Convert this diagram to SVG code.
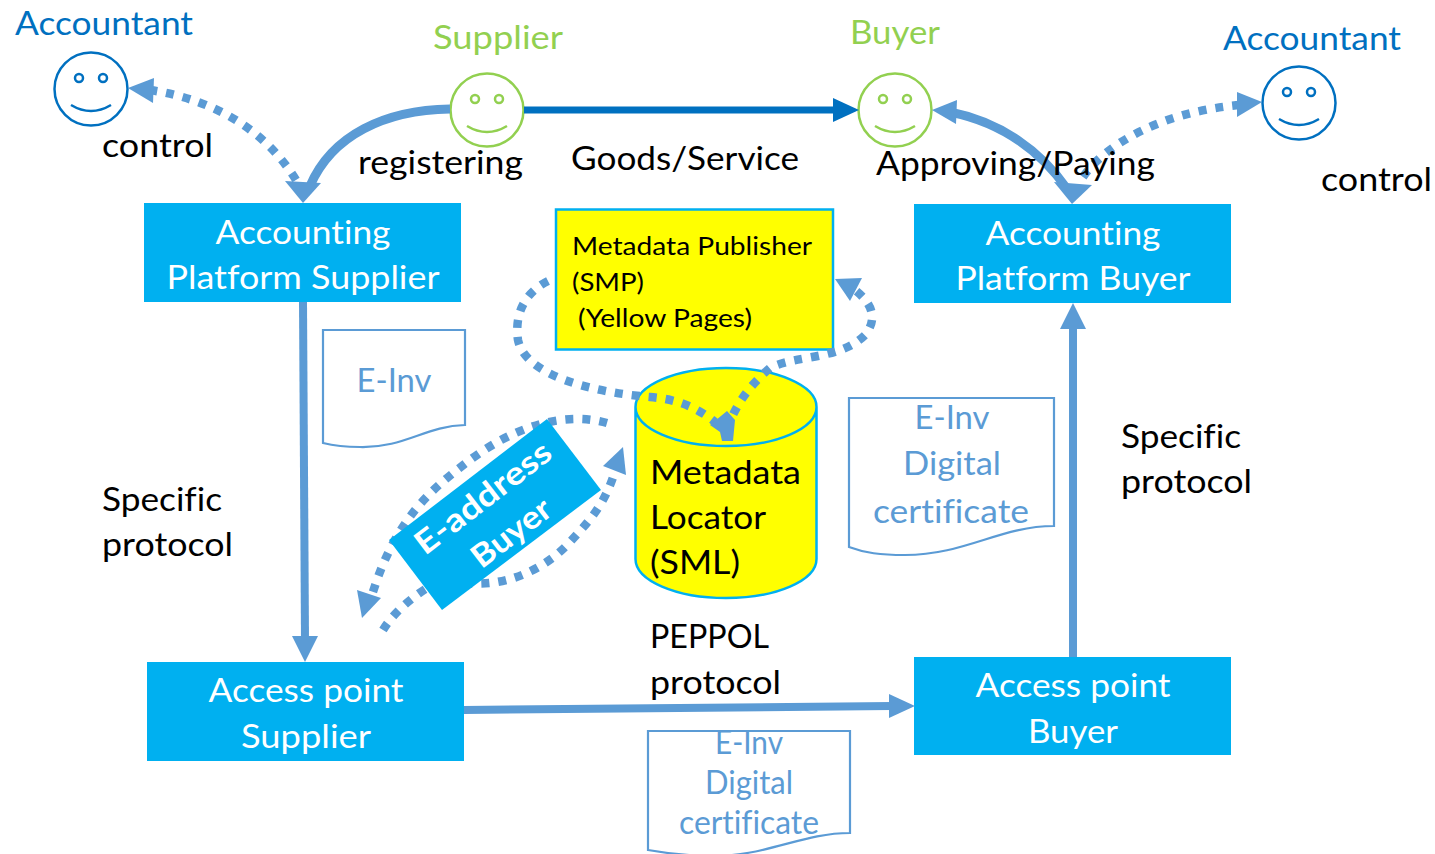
<svg xmlns="http://www.w3.org/2000/svg" width="1435" height="854" viewBox="0 0 1435 854">
<style>
text{font-family:"Lato","Noto Sans",sans-serif;font-size:32px;fill:#000;font-variant-ligatures:none}
.w{fill:#fff}.b{fill:#0070c0}.g{fill:#92d050}.d{fill:#5b9bd5}
.box{fill:#00b0f0}
.m{text-anchor:middle}
.face{fill:#fff;fill-opacity:0;stroke-width:2.5}
.mouth{fill:none;stroke-width:2.5}
.doc{fill:#fff;stroke:#5b9bd5;stroke-width:2.2}
.sol{fill:none;stroke:#5b9bd5}
.dot{fill:none;stroke:#5b9bd5;stroke-width:8.5;stroke-dasharray:8 9}
.head{fill:#5b9bd5}
</style>
<defs>
<g id="smile">
<circle class="face" cx="0" cy="0" r="36.5"/>
<circle class="face" cx="-12" cy="-11" r="4"/>
<circle class="face" cx="12" cy="-11" r="4"/>
<path class="mouth" d="M-20 16 Q0 28 20 16"/>
</g>
</defs>
<g id="doc-einv-1"><path class="doc" d="M323 330H465V425C425 426 405 448 360 447C345 447 335 446 323 443Z"/><text class="d m" x="394" y="392" textLength="75" lengthAdjust="spacingAndGlyphs">E-Inv</text></g>
<g id="doc-einv-2"><path class="doc" d="M849 398H1054V526C1000 526 965 555 905 555C880 555 865 553 849 547Z"/><text class="d m" x="952" y="429" textLength="75" lengthAdjust="spacingAndGlyphs">E-Inv</text><text class="d m" x="952" y="475" textLength="98" lengthAdjust="spacingAndGlyphs">Digital</text><text class="d m" x="951" y="523" textLength="156" lengthAdjust="spacingAndGlyphs">certificate</text></g>
<g id="doc-einv-3"><path class="doc" d="M648 731H850V833C800 833 765 858 705 856C680 855 665 853 648 850Z"/><text class="d m" x="749" y="754" textLength="68" lengthAdjust="spacingAndGlyphs">E-Inv</text><text class="d m" x="749" y="794" textLength="88" lengthAdjust="spacingAndGlyphs">Digital</text><text class="d m" x="749" y="834" textLength="140" lengthAdjust="spacingAndGlyphs">certificate</text></g>
<g id="smp"><rect x="556" y="209.500" width="277" height="140" fill="#ff0" stroke="#00b0f0" stroke-width="2.500"/>
<text x="572" y="255" style="font-size:25px" textLength="240" lengthAdjust="spacingAndGlyphs">Metadata Publisher</text><text x="572" y="291" style="font-size:25px" textLength="72" lengthAdjust="spacingAndGlyphs">(SMP)</text><text x="578" y="327" style="font-size:25px" textLength="174" lengthAdjust="spacingAndGlyphs">(Yellow Pages)</text></g>
<g id="sml"><path d="M635.500 407V559A90.500 39 0 0 0 816.500 559V407A90.500 39 0 0 0 635.500 407A90.500 39 0 0 0 816.500 407" fill="#ff0" stroke="#00b0f0" stroke-width="2.500"/>
<text x="650" y="484" textLength="151" lengthAdjust="spacingAndGlyphs">Metadata</text><text x="650" y="529" textLength="116" lengthAdjust="spacingAndGlyphs">Locator</text><text x="650" y="574" textLength="90" lengthAdjust="spacingAndGlyphs">(SML)</text></g>
<g id="accountant-left"><use href="#smile" x="91" y="89" stroke="#0070c0"/><text class="b" x="15" y="35" textLength="178" lengthAdjust="spacingAndGlyphs">Accountant</text></g>
<g id="supplier"><use href="#smile" x="487" y="110" stroke="#92d050"/><text class="g" x="433" y="49" textLength="130" lengthAdjust="spacingAndGlyphs">Supplier</text></g>
<g id="buyer"><use href="#smile" x="895" y="110" stroke="#92d050"/><text class="g" x="850" y="44" textLength="90" lengthAdjust="spacingAndGlyphs">Buyer</text></g>
<g id="accountant-right"><use href="#smile" x="1299" y="103" stroke="#0070c0"/><text class="b" x="1223" y="50" textLength="178" lengthAdjust="spacingAndGlyphs">Accountant</text></g>
<g id="accounting-supplier"><rect class="box" x="144" y="203" width="317" height="99"/><text class="w m" x="303" y="244" textLength="175" lengthAdjust="spacingAndGlyphs">Accounting</text><text class="w m" x="303" y="289" textLength="273" lengthAdjust="spacingAndGlyphs">Platform Supplier</text></g>
<g id="accounting-buyer"><rect class="box" x="914" y="204" width="317" height="99"/><text class="w m" x="1073" y="245" textLength="175" lengthAdjust="spacingAndGlyphs">Accounting</text><text class="w m" x="1073" y="290" textLength="235" lengthAdjust="spacingAndGlyphs">Platform Buyer</text></g>
<g id="ap-supplier"><rect class="box" x="147" y="662" width="317" height="99"/><text class="w m" x="306" y="702" textLength="195" lengthAdjust="spacingAndGlyphs">Access point</text><text class="w m" x="306" y="748" textLength="130" lengthAdjust="spacingAndGlyphs">Supplier</text></g>
<g id="ap-buyer"><rect class="box" x="914" y="657" width="317" height="98"/><text class="w m" x="1073" y="697" textLength="195" lengthAdjust="spacingAndGlyphs">Access point</text><text class="w m" x="1073" y="743" textLength="90" lengthAdjust="spacingAndGlyphs">Buyer</text></g>
<g id="connectors">
<path d="M524 110H836" fill="none" stroke="#0070c0" stroke-width="7"/><polygon points="859,110 833,98 833,122" fill="#0070c0"/>
<path class="sol" stroke-width="9" d="M450 109C385 110 332 135 310 186"/><polygon class="head" points="303,203 285,181 321,183"/>
<path class="sol" stroke-width="9" d="M950 112C1000 122 1040 150 1068 190"/><polygon class="head" points="932,110 957,100 956,124"/><polygon class="head" points="1072,204 1054,182 1092,185"/>
<path class="sol" stroke-width="8" d="M303 302L305 640"/><polygon class="head" points="305,662 292,636 318,636"/>
<path class="sol" stroke-width="8" d="M464 710L892 706"/><polygon class="head" points="915,706 889,694 889,718"/>
<path class="sol" stroke-width="8" d="M1073 657V325"/><polygon class="head" points="1073,303 1060,329 1086,329"/>
<path class="dot" d="M296 180C265 130 215 100 150 90"/><polygon class="head" points="128,88 154,78 153,103"/>
<path class="dot" d="M1083 177C1105 145 1160 112 1240 105"/><polygon class="head" points="1262,102 1237,92 1237,117"/>
<path class="dot" d="M548 281C520 295 515 320 518 340C525 375 590 392 650 397C675 399 695 406 715 422"/>
<path class="dot" d="M727 430C735 405 750 385 770 368C795 355 840 360 865 335C877 320 874 305 855 290"/><polygon class="head" points="835,279 862,278 850,301"/>
<polygon class="head" points="710,425 727,411 735,420 733,441 722,441 720,432"/>
<path class="dot" d="M607 423C560 410 510 430 470 460C430 490 395 520 372 595"/><polygon class="head" points="362,618 357,590 381,598"/>
<path class="dot" d="M383 630C395 610 420 590 445 578C475 590 530 585 570 542C590 520 605 505 616 468"/><polygon class="head" points="623,447 603,466 626,475"/>
</g>
<g id="e-address"><polygon class="box" points="389,540 547,419 601,490 442,610"/><g transform="rotate(-37.500 495 515)"><text class="w m" x="496" y="505" style="font-weight:700" textLength="163" lengthAdjust="spacingAndGlyphs">E-address</text><text class="w m" x="497" y="550" style="font-weight:700" textLength="92" lengthAdjust="spacingAndGlyphs">Buyer</text></g></g>
<g id="labels">
<text x="102" y="157" textLength="111" lengthAdjust="spacingAndGlyphs">control</text>
<text x="358" y="174" textLength="165" lengthAdjust="spacingAndGlyphs">registering</text>
<text x="571" y="170" textLength="228" lengthAdjust="spacingAndGlyphs">Goods/Service</text>
<text x="876" y="175" textLength="279" lengthAdjust="spacingAndGlyphs">Approving/Paying</text>
<text x="1321" y="191" textLength="111" lengthAdjust="spacingAndGlyphs">control</text>
<text x="102" y="511" textLength="120" lengthAdjust="spacingAndGlyphs">Specific</text>
<text x="102" y="556" textLength="131" lengthAdjust="spacingAndGlyphs">protocol</text>
<text x="1121" y="448" textLength="120" lengthAdjust="spacingAndGlyphs">Specific</text>
<text x="1121" y="493" textLength="131" lengthAdjust="spacingAndGlyphs">protocol</text>
<text x="650" y="648" textLength="119" lengthAdjust="spacingAndGlyphs">PEPPOL</text>
<text x="650" y="694" textLength="131" lengthAdjust="spacingAndGlyphs">protocol</text>
</g>
</svg>
